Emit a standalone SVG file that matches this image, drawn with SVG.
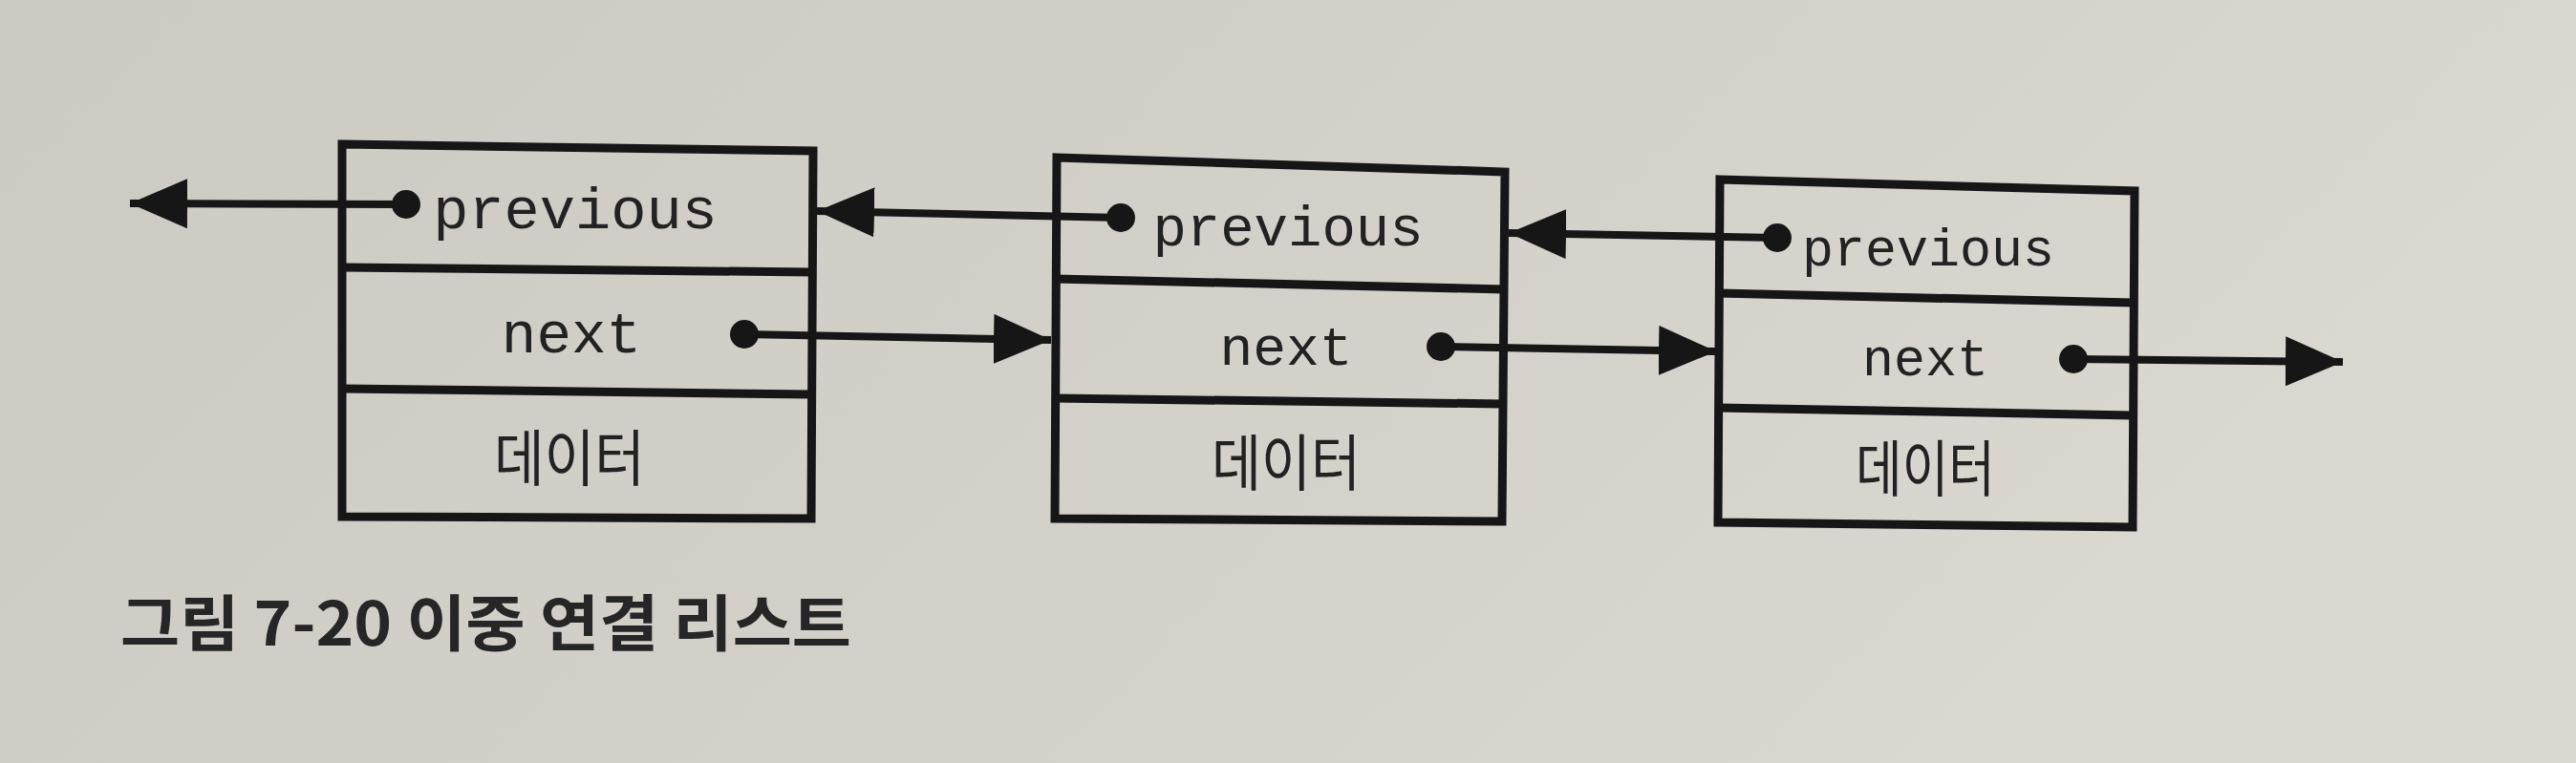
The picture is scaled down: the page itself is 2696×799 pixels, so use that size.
<svg xmlns="http://www.w3.org/2000/svg" width="2696" height="799" viewBox="0 0 2696 799">
<defs>
<marker id="ah" markerUnits="userSpaceOnUse" markerWidth="62" markerHeight="52" refX="60" refY="26" orient="auto">
<path d="M0,0 L60,26 L0,52 z" fill="#161616"/>
</marker>
<linearGradient id="bg" x1="0" y1="0" x2="1" y2="0.3">
<stop offset="0" stop-color="#cccac2"/>
<stop offset="0.6" stop-color="#d3d1c9"/>
<stop offset="1" stop-color="#dad8d1"/>
</linearGradient>
<style>
.box{fill:none;stroke:#161616;stroke-width:9;stroke-linejoin:miter}
.div{stroke:#161616;stroke-width:9}
.mono{font-family:"Courier New","Nimbus Mono PS","FreeMono",Courier,"Liberation Mono",monospace;fill:#222;text-anchor:middle}
.kr{font-family:"Noto Sans CJK KR","Noto Sans",sans-serif;font-size:64px;fill:#222;text-anchor:middle}
.cap{font-family:"Noto Sans CJK KR","Noto Sans",sans-serif;font-size:64px;font-weight:700;fill:#262626}
.ln{stroke:#161616;stroke-width:8;fill:none}
.dot{fill:#161616}
</style>
</defs>
<rect width="2696" height="799" fill="url(#bg)"/>

<g id="node1">
<path class="box" d="M358,151 L851,158 L849,543 L358,541 Z"/>
<line class="div" x1="358" y1="280" x2="850" y2="285"/>
<line class="div" x1="358" y1="407" x2="849" y2="413"/>
<text class="mono" x="602" y="239" font-size="62">previous</text>
<text class="mono" x="598" y="369" font-size="61">next</text>
<text class="kr" x="596" y="503" textLength="158" lengthAdjust="spacingAndGlyphs">데이터</text>
</g>

<g id="node2">
<path class="box" d="M1106,165 L1575,180 L1572,546 L1104,543 Z"/>
<line class="div" x1="1105" y1="292" x2="1574" y2="303"/>
<line class="div" x1="1104" y1="417" x2="1573" y2="423"/>
<text class="mono" x="1348" y="257" font-size="59">previous</text>
<text class="mono" x="1346" y="382" font-size="58">next</text>
<text class="kr" x="1346" y="508" textLength="156" lengthAdjust="spacingAndGlyphs">데이터</text>
</g>

<g id="node3">
<path class="box" d="M1800,188 L2234,200 L2232,552 L1798,547 Z"/>
<line class="div" x1="1799" y1="307" x2="2233" y2="317"/>
<line class="div" x1="1798" y1="427" x2="2232" y2="435"/>
<text class="mono" x="2018" y="278" font-size="55">previous</text>
<text class="mono" x="2015" y="393" font-size="55">next</text>
<text class="kr" x="2015" y="514" font-size="60" textLength="146" lengthAdjust="spacingAndGlyphs">데이터</text>
</g>

<g id="connectors">
<line class="ln" x1="425" y1="214" x2="136" y2="213" marker-end="url(#ah)"/>
<circle class="dot" cx="425" cy="214" r="15"/>
<line class="ln" x1="779" y1="350" x2="1100" y2="356" marker-end="url(#ah)"/>
<circle class="dot" cx="779" cy="350" r="15"/>
<line class="ln" x1="1173" y1="228" x2="855" y2="221" marker-end="url(#ah)"/>
<circle class="dot" cx="1173" cy="228" r="15"/>
<line class="ln" x1="1508" y1="363" x2="1796" y2="368" marker-end="url(#ah)"/>
<circle class="dot" cx="1508" cy="363" r="15"/>
<line class="ln" x1="1860" y1="249" x2="1579" y2="244" marker-end="url(#ah)"/>
<circle class="dot" cx="1860" cy="249" r="15"/>
<line class="ln" x1="2170" y1="376" x2="2452" y2="379" marker-end="url(#ah)"/>
<circle class="dot" cx="2170" cy="376" r="15"/>
</g>

<text class="cap" x="126" y="676" textLength="765" lengthAdjust="spacingAndGlyphs">그림 7-20 이중 연결 리스트</text>
</svg>
